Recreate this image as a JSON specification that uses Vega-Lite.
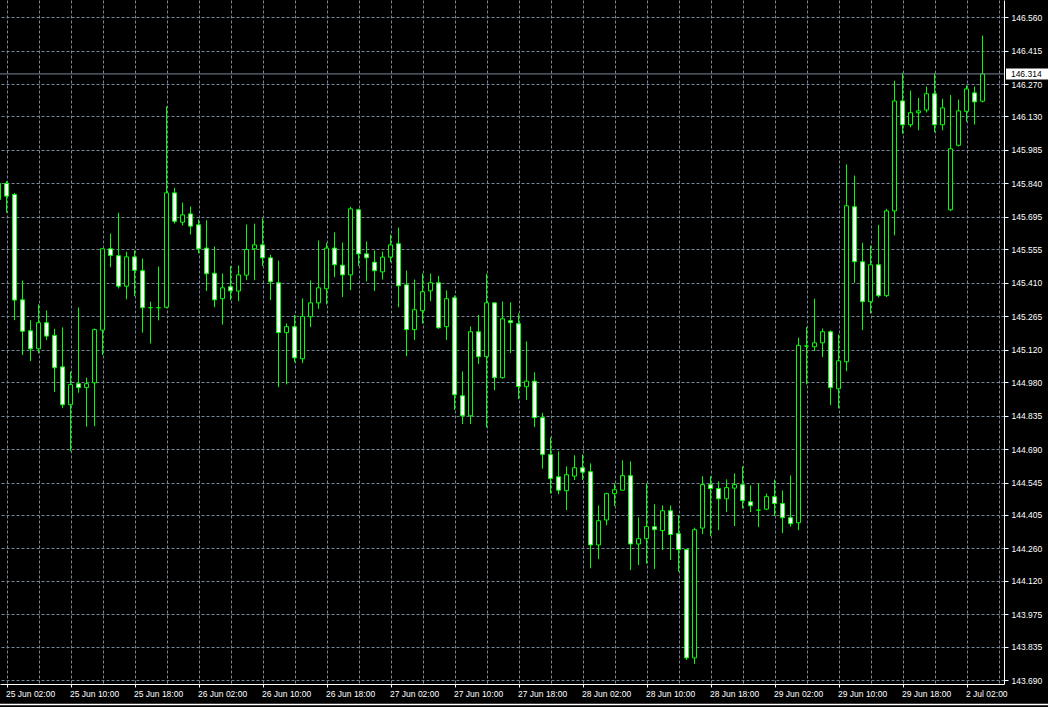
{
  "$schema": "https://vega.github.io/schema/vega-lite/v6.json",
  "width": 1004,
  "height": 684,
  "autosize": {"type": "none"},
  "padding": {"left": 0, "top": 0, "right": 44, "bottom": 23},
  "background": "#000000",
  "config": {
    "view": {"stroke": null},
    "scale": {"continuousPadding": 0},
    "axis": {
      "domainColor": "#ffffff",
      "domainWidth": 1,
      "tickColor": "#ffffff",
      "tickWidth": 1,
      "labelColor": "#ffffff",
      "labelFont": "Liberation Sans",
      "labelFontSize": 8.5,
      "gridColor": "#778899",
      "gridDash": [3, 2],
      "gridWidth": 1,
      "gridOpacity": 1,
      "labelOverlap": false,
      "labelFlush": false,
      "labelBound": false
    }
  },
  "data": {
    "values": [
      {"i": -1, "o": 145.770, "h": 145.848, "l": 145.749, "c": 145.840},
      {"i": 0, "o": 145.840, "h": 145.850, "l": 145.713, "c": 145.785},
      {"i": 1, "o": 145.792, "h": 145.799, "l": 145.248, "c": 145.335},
      {"i": 2, "o": 145.336, "h": 145.420, "l": 145.097, "c": 145.200},
      {"i": 3, "o": 145.202, "h": 145.247, "l": 145.071, "c": 145.124},
      {"i": 4, "o": 145.124, "h": 145.316, "l": 145.104, "c": 145.237},
      {"i": 5, "o": 145.237, "h": 145.290, "l": 145.162, "c": 145.179},
      {"i": 6, "o": 145.182, "h": 145.211, "l": 144.937, "c": 145.042},
      {"i": 7, "o": 145.046, "h": 145.217, "l": 144.867, "c": 144.882},
      {"i": 8, "o": 144.882, "h": 145.025, "l": 144.680, "c": 144.969},
      {"i": 9, "o": 144.973, "h": 145.303, "l": 144.934, "c": 144.956},
      {"i": 10, "o": 144.956, "h": 144.999, "l": 144.787, "c": 144.973},
      {"i": 11, "o": 144.977, "h": 145.212, "l": 144.789, "c": 145.207},
      {"i": 12, "o": 145.205, "h": 145.558, "l": 145.097, "c": 145.557},
      {"i": 13, "o": 145.557, "h": 145.623, "l": 145.477, "c": 145.528},
      {"i": 14, "o": 145.527, "h": 145.713, "l": 145.385, "c": 145.395},
      {"i": 15, "o": 145.395, "h": 145.544, "l": 145.338, "c": 145.522},
      {"i": 16, "o": 145.522, "h": 145.550, "l": 145.352, "c": 145.464},
      {"i": 17, "o": 145.462, "h": 145.515, "l": 145.194, "c": 145.302},
      {"i": 18, "o": 145.302, "h": 145.328, "l": 145.147, "c": 145.302},
      {"i": 19, "o": 145.302, "h": 145.480, "l": 145.247, "c": 145.302},
      {"i": 20, "o": 145.304, "h": 146.173, "l": 145.299, "c": 145.799},
      {"i": 21, "o": 145.799, "h": 145.821, "l": 145.666, "c": 145.676},
      {"i": 22, "o": 145.672, "h": 145.757, "l": 145.658, "c": 145.704},
      {"i": 23, "o": 145.708, "h": 145.740, "l": 145.619, "c": 145.655},
      {"i": 24, "o": 145.661, "h": 145.684, "l": 145.537, "c": 145.557},
      {"i": 25, "o": 145.560, "h": 145.680, "l": 145.374, "c": 145.449},
      {"i": 26, "o": 145.451, "h": 145.567, "l": 145.304, "c": 145.336},
      {"i": 27, "o": 145.341, "h": 145.450, "l": 145.229, "c": 145.388},
      {"i": 28, "o": 145.393, "h": 145.482, "l": 145.335, "c": 145.375},
      {"i": 29, "o": 145.374, "h": 145.485, "l": 145.330, "c": 145.444},
      {"i": 30, "o": 145.443, "h": 145.662, "l": 145.421, "c": 145.554},
      {"i": 31, "o": 145.557, "h": 145.666, "l": 145.421, "c": 145.574},
      {"i": 32, "o": 145.574, "h": 145.688, "l": 145.482, "c": 145.518},
      {"i": 33, "o": 145.518, "h": 145.531, "l": 145.335, "c": 145.414},
      {"i": 34, "o": 145.410, "h": 145.506, "l": 144.958, "c": 145.194},
      {"i": 35, "o": 145.194, "h": 145.234, "l": 144.970, "c": 145.220},
      {"i": 36, "o": 145.220, "h": 145.271, "l": 145.066, "c": 145.085},
      {"i": 37, "o": 145.081, "h": 145.342, "l": 145.062, "c": 145.264},
      {"i": 38, "o": 145.263, "h": 145.420, "l": 145.218, "c": 145.323},
      {"i": 39, "o": 145.323, "h": 145.593, "l": 145.297, "c": 145.388},
      {"i": 40, "o": 145.384, "h": 145.583, "l": 145.316, "c": 145.560},
      {"i": 41, "o": 145.560, "h": 145.628, "l": 145.434, "c": 145.488},
      {"i": 42, "o": 145.486, "h": 145.584, "l": 145.348, "c": 145.444},
      {"i": 43, "o": 145.444, "h": 145.739, "l": 145.378, "c": 145.730},
      {"i": 44, "o": 145.726, "h": 145.730, "l": 145.482, "c": 145.535},
      {"i": 45, "o": 145.535, "h": 145.589, "l": 145.416, "c": 145.518},
      {"i": 46, "o": 145.499, "h": 145.550, "l": 145.374, "c": 145.462},
      {"i": 47, "o": 145.457, "h": 145.545, "l": 145.424, "c": 145.521},
      {"i": 48, "o": 145.521, "h": 145.618, "l": 145.499, "c": 145.574},
      {"i": 49, "o": 145.579, "h": 145.649, "l": 145.304, "c": 145.397},
      {"i": 50, "o": 145.401, "h": 145.463, "l": 145.092, "c": 145.207},
      {"i": 51, "o": 145.207, "h": 145.424, "l": 145.162, "c": 145.293},
      {"i": 52, "o": 145.289, "h": 145.450, "l": 145.233, "c": 145.371},
      {"i": 53, "o": 145.375, "h": 145.450, "l": 145.330, "c": 145.410},
      {"i": 54, "o": 145.410, "h": 145.440, "l": 145.211, "c": 145.215},
      {"i": 55, "o": 145.220, "h": 145.377, "l": 145.162, "c": 145.341},
      {"i": 56, "o": 145.345, "h": 145.355, "l": 144.859, "c": 144.925},
      {"i": 57, "o": 144.921, "h": 145.026, "l": 144.798, "c": 144.834},
      {"i": 58, "o": 144.834, "h": 145.221, "l": 144.798, "c": 145.198},
      {"i": 59, "o": 145.198, "h": 145.271, "l": 145.058, "c": 145.090},
      {"i": 60, "o": 145.090, "h": 145.449, "l": 144.784, "c": 145.323},
      {"i": 61, "o": 145.323, "h": 145.325, "l": 144.945, "c": 144.999},
      {"i": 62, "o": 144.999, "h": 145.329, "l": 144.995, "c": 145.254},
      {"i": 63, "o": 145.246, "h": 145.325, "l": 145.105, "c": 145.237},
      {"i": 64, "o": 145.233, "h": 145.277, "l": 144.906, "c": 144.961},
      {"i": 65, "o": 144.960, "h": 145.156, "l": 144.902, "c": 144.984},
      {"i": 66, "o": 144.984, "h": 145.022, "l": 144.785, "c": 144.826},
      {"i": 67, "o": 144.826, "h": 144.847, "l": 144.605, "c": 144.667},
      {"i": 68, "o": 144.666, "h": 144.741, "l": 144.498, "c": 144.562},
      {"i": 69, "o": 144.570, "h": 144.680, "l": 144.495, "c": 144.512},
      {"i": 70, "o": 144.510, "h": 144.615, "l": 144.426, "c": 144.579},
      {"i": 71, "o": 144.573, "h": 144.663, "l": 144.556, "c": 144.609},
      {"i": 72, "o": 144.609, "h": 144.667, "l": 144.556, "c": 144.590},
      {"i": 73, "o": 144.592, "h": 144.628, "l": 144.174, "c": 144.275},
      {"i": 74, "o": 144.275, "h": 144.446, "l": 144.213, "c": 144.380},
      {"i": 75, "o": 144.383, "h": 144.501, "l": 144.360, "c": 144.497},
      {"i": 76, "o": 144.497, "h": 144.541, "l": 144.443, "c": 144.514},
      {"i": 77, "o": 144.512, "h": 144.641, "l": 144.512, "c": 144.575},
      {"i": 78, "o": 144.575, "h": 144.637, "l": 144.166, "c": 144.279},
      {"i": 79, "o": 144.279, "h": 144.394, "l": 144.188, "c": 144.302},
      {"i": 80, "o": 144.302, "h": 144.541, "l": 144.194, "c": 144.354},
      {"i": 81, "o": 144.354, "h": 144.451, "l": 144.171, "c": 144.341},
      {"i": 82, "o": 144.337, "h": 144.446, "l": 144.253, "c": 144.423},
      {"i": 83, "o": 144.423, "h": 144.446, "l": 144.210, "c": 144.320},
      {"i": 84, "o": 144.324, "h": 144.403, "l": 144.159, "c": 144.255},
      {"i": 85, "o": 144.255, "h": 144.258, "l": 143.777, "c": 143.786},
      {"i": 86, "o": 143.786, "h": 144.350, "l": 143.760, "c": 144.341},
      {"i": 87, "o": 144.348, "h": 144.572, "l": 144.322, "c": 144.536},
      {"i": 88, "o": 144.536, "h": 144.572, "l": 144.313, "c": 144.519},
      {"i": 89, "o": 144.519, "h": 144.550, "l": 144.339, "c": 144.475},
      {"i": 90, "o": 144.475, "h": 144.559, "l": 144.417, "c": 144.523},
      {"i": 91, "o": 144.521, "h": 144.585, "l": 144.357, "c": 144.536},
      {"i": 92, "o": 144.536, "h": 144.615, "l": 144.432, "c": 144.467},
      {"i": 93, "o": 144.462, "h": 144.533, "l": 144.417, "c": 144.445},
      {"i": 94, "o": 144.426, "h": 144.541, "l": 144.352, "c": 144.426},
      {"i": 95, "o": 144.430, "h": 144.497, "l": 144.426, "c": 144.484},
      {"i": 96, "o": 144.484, "h": 144.558, "l": 144.400, "c": 144.454},
      {"i": 97, "o": 144.454, "h": 144.511, "l": 144.326, "c": 144.393},
      {"i": 98, "o": 144.393, "h": 144.576, "l": 144.354, "c": 144.367},
      {"i": 99, "o": 144.371, "h": 145.172, "l": 144.339, "c": 145.139},
      {"i": 100, "o": 145.136, "h": 145.218, "l": 144.970, "c": 145.136},
      {"i": 101, "o": 145.133, "h": 145.341, "l": 145.114, "c": 145.150},
      {"i": 102, "o": 145.150, "h": 145.212, "l": 145.088, "c": 145.198},
      {"i": 103, "o": 145.198, "h": 145.204, "l": 144.880, "c": 144.956},
      {"i": 104, "o": 144.951, "h": 145.186, "l": 144.866, "c": 145.072},
      {"i": 105, "o": 145.068, "h": 145.922, "l": 145.027, "c": 145.743},
      {"i": 106, "o": 145.739, "h": 145.874, "l": 145.410, "c": 145.501},
      {"i": 107, "o": 145.501, "h": 145.583, "l": 145.205, "c": 145.328},
      {"i": 108, "o": 145.328, "h": 145.571, "l": 145.277, "c": 145.488},
      {"i": 109, "o": 145.488, "h": 145.661, "l": 145.346, "c": 145.354},
      {"i": 110, "o": 145.354, "h": 145.730, "l": 145.348, "c": 145.721},
      {"i": 111, "o": 145.721, "h": 146.285, "l": 145.615, "c": 146.197},
      {"i": 112, "o": 146.197, "h": 146.319, "l": 146.055, "c": 146.094},
      {"i": 113, "o": 146.094, "h": 146.242, "l": 146.083, "c": 146.146},
      {"i": 114, "o": 146.146, "h": 146.210, "l": 146.070, "c": 146.154},
      {"i": 115, "o": 146.158, "h": 146.259, "l": 146.147, "c": 146.228},
      {"i": 116, "o": 146.228, "h": 146.317, "l": 146.062, "c": 146.094},
      {"i": 117, "o": 146.094, "h": 146.206, "l": 146.070, "c": 146.167},
      {"i": 118, "o": 145.726, "h": 146.223, "l": 145.720, "c": 145.990},
      {"i": 119, "o": 146.005, "h": 146.203, "l": 146.000, "c": 146.154},
      {"i": 120, "o": 146.152, "h": 146.264, "l": 146.107, "c": 146.249},
      {"i": 121, "o": 146.232, "h": 146.259, "l": 146.095, "c": 146.193},
      {"i": 122, "o": 146.196, "h": 146.480, "l": 146.191, "c": 146.314}
    ]
  },
  "layer": [
    {
      "mark": {"type": "rule", "color": "#00ff00", "strokeWidth": 1, "clip": true},
      "encoding": {
        "x": {
          "field": "i",
          "type": "quantitative",
          "scale": {"domain": [-0.8125, 124.6875], "nice": false, "zero": false, "padding": 0},
          "axis": {
            "title": null,
            "orient": "bottom",
            "values": [0, 4, 8, 12, 16, 20, 24, 28, 32, 36, 40, 44, 48, 52, 56, 60, 64, 68, 72, 76, 80, 84, 88, 92, 96, 100, 104, 108, 112, 116, 120, 124],
            "labelExpr": "datum.value % 8 === 0 ? ['25 Jun 02:00','25 Jun 10:00','25 Jun 18:00','26 Jun 02:00','26 Jun 10:00','26 Jun 18:00','27 Jun 02:00','27 Jun 10:00','27 Jun 18:00','28 Jun 02:00','28 Jun 10:00','28 Jun 18:00','29 Jun 02:00','29 Jun 10:00','29 Jun 18:00','2 Jul 02:00'][datum.value / 8] : ''",
            "labelAlign": "left",
            "labelBaseline": "middle",
            "labelOffset": -1,
            "labelPadding": 6,
            "labelOverlap": false,
            "labelFlush": false,
            "tickSize": 3,
            "tickOpacity": {"condition": {"test": "datum.value % 8 === 0", "value": 1}, "value": 0},
            "grid": true
          }
        },
        "y": {
          "field": "l",
          "type": "quantitative",
          "scale": {"domain": [143.673, 146.634], "nice": false, "zero": false, "padding": 0},
          "axis": {
            "title": null,
            "orient": "right",
            "values": [146.56, 146.415, 146.27, 146.13, 145.985, 145.84, 145.695, 145.555, 145.41, 145.265, 145.12, 144.98, 144.835, 144.69, 144.545, 144.405, 144.26, 144.12, 143.975, 143.835, 143.69],
            "format": ".3f",
            "labelAlign": "left",
            "labelBaseline": "middle",
            "labelPadding": 3,
            "labelOverlap": false,
            "labelFlush": false,
            "tickSize": 4,
            "grid": true
          }
        },
        "y2": {"field": "h"}
      }
    },
    {
      "mark": {"type": "bar", "orient": "vertical", "size": 4, "stroke": "#00ff00", "strokeWidth": 1, "clip": true},
      "encoding": {
        "x": {
          "field": "i",
          "type": "quantitative",
          "axis": {
            "title": null,
            "orient": "bottom",
            "values": [0, 4, 8, 12, 16, 20, 24, 28, 32, 36, 40, 44, 48, 52, 56, 60, 64, 68, 72, 76, 80, 84, 88, 92, 96, 100, 104, 108, 112, 116, 120, 124],
            "labelExpr": "datum.value % 8 === 0 ? ['25 Jun 02:00','25 Jun 10:00','25 Jun 18:00','26 Jun 02:00','26 Jun 10:00','26 Jun 18:00','27 Jun 02:00','27 Jun 10:00','27 Jun 18:00','28 Jun 02:00','28 Jun 10:00','28 Jun 18:00','29 Jun 02:00','29 Jun 10:00','29 Jun 18:00','2 Jul 02:00'][datum.value / 8] : ''",
            "labelAlign": "left",
            "labelBaseline": "middle",
            "labelOffset": -1,
            "labelPadding": 6,
            "labelOverlap": false,
            "labelFlush": false,
            "tickSize": 3,
            "tickOpacity": {"condition": {"test": "datum.value % 8 === 0", "value": 1}, "value": 0},
            "grid": true
          }
        },
        "y": {
          "field": "o",
          "type": "quantitative",
          "axis": {
            "title": null,
            "orient": "right",
            "values": [146.56, 146.415, 146.27, 146.13, 145.985, 145.84, 145.695, 145.555, 145.41, 145.265, 145.12, 144.98, 144.835, 144.69, 144.545, 144.405, 144.26, 144.12, 143.975, 143.835, 143.69],
            "format": ".3f",
            "labelAlign": "left",
            "labelBaseline": "middle",
            "labelPadding": 3,
            "labelOverlap": false,
            "labelFlush": false,
            "tickSize": 4,
            "grid": true
          }
        },
        "y2": {"field": "c"},
        "fill": {"condition": {"test": "datum.c > datum.o", "value": "#000000"}, "value": "#ffffff"}
      }
    },
    {
      "data": {"values": [{"l": 146.314}]},
      "mark": {"type": "rule", "color": "#778899", "strokeWidth": 1},
      "encoding": {
        "y": {
          "field": "l",
          "type": "quantitative",
          "axis": {
            "title": null,
            "orient": "right",
            "values": [146.56, 146.415, 146.27, 146.13, 145.985, 145.84, 145.695, 145.555, 145.41, 145.265, 145.12, 144.98, 144.835, 144.69, 144.545, 144.405, 144.26, 144.12, 143.975, 143.835, 143.69],
            "format": ".3f",
            "labelAlign": "left",
            "labelBaseline": "middle",
            "labelPadding": 3,
            "labelOverlap": false,
            "labelFlush": false,
            "tickSize": 4,
            "grid": true
          }
        }
      }
    },
    {
      "data": {"values": [{"l": 146.314}]},
      "mark": {"type": "rule", "color": "#ffffff", "strokeWidth": 11, "strokeCap": "butt", "clip": false},
      "encoding": {
        "x": {
          "datum": 124.94,
          "type": "quantitative",
          "axis": {
            "title": null,
            "orient": "bottom",
            "values": [0, 4, 8, 12, 16, 20, 24, 28, 32, 36, 40, 44, 48, 52, 56, 60, 64, 68, 72, 76, 80, 84, 88, 92, 96, 100, 104, 108, 112, 116, 120, 124],
            "labelExpr": "datum.value % 8 === 0 ? ['25 Jun 02:00','25 Jun 10:00','25 Jun 18:00','26 Jun 02:00','26 Jun 10:00','26 Jun 18:00','27 Jun 02:00','27 Jun 10:00','27 Jun 18:00','28 Jun 02:00','28 Jun 10:00','28 Jun 18:00','29 Jun 02:00','29 Jun 10:00','29 Jun 18:00','2 Jul 02:00'][datum.value / 8] : ''",
            "labelAlign": "left",
            "labelBaseline": "middle",
            "labelOffset": -1,
            "labelPadding": 6,
            "labelOverlap": false,
            "labelFlush": false,
            "tickSize": 3,
            "tickOpacity": {"condition": {"test": "datum.value % 8 === 0", "value": 1}, "value": 0},
            "grid": true
          }
        },
        "x2": {"datum": 131},
        "y": {
          "field": "l",
          "type": "quantitative",
          "axis": {
            "title": null,
            "orient": "right",
            "values": [146.56, 146.415, 146.27, 146.13, 145.985, 145.84, 145.695, 145.555, 145.41, 145.265, 145.12, 144.98, 144.835, 144.69, 144.545, 144.405, 144.26, 144.12, 143.975, 143.835, 143.69],
            "format": ".3f",
            "labelAlign": "left",
            "labelBaseline": "middle",
            "labelPadding": 3,
            "labelOverlap": false,
            "labelFlush": false,
            "tickSize": 4,
            "grid": true
          }
        }
      }
    },
    {
      "data": {"values": [{"l": 146.314}]},
      "mark": {"type": "text", "color": "#000000", "font": "Liberation Sans", "fontSize": 8.5, "align": "left", "baseline": "middle", "clip": false},
      "encoding": {
        "x": {
          "datum": 125.55,
          "type": "quantitative",
          "axis": {
            "title": null,
            "orient": "bottom",
            "values": [0, 4, 8, 12, 16, 20, 24, 28, 32, 36, 40, 44, 48, 52, 56, 60, 64, 68, 72, 76, 80, 84, 88, 92, 96, 100, 104, 108, 112, 116, 120, 124],
            "labelExpr": "datum.value % 8 === 0 ? ['25 Jun 02:00','25 Jun 10:00','25 Jun 18:00','26 Jun 02:00','26 Jun 10:00','26 Jun 18:00','27 Jun 02:00','27 Jun 10:00','27 Jun 18:00','28 Jun 02:00','28 Jun 10:00','28 Jun 18:00','29 Jun 02:00','29 Jun 10:00','29 Jun 18:00','2 Jul 02:00'][datum.value / 8] : ''",
            "labelAlign": "left",
            "labelBaseline": "middle",
            "labelOffset": -1,
            "labelPadding": 6,
            "labelOverlap": false,
            "labelFlush": false,
            "tickSize": 3,
            "tickOpacity": {"condition": {"test": "datum.value % 8 === 0", "value": 1}, "value": 0},
            "grid": true
          }
        },
        "y": {
          "field": "l",
          "type": "quantitative",
          "axis": {
            "title": null,
            "orient": "right",
            "values": [146.56, 146.415, 146.27, 146.13, 145.985, 145.84, 145.695, 145.555, 145.41, 145.265, 145.12, 144.98, 144.835, 144.69, 144.545, 144.405, 144.26, 144.12, 143.975, 143.835, 143.69],
            "format": ".3f",
            "labelAlign": "left",
            "labelBaseline": "middle",
            "labelPadding": 3,
            "labelOverlap": false,
            "labelFlush": false,
            "tickSize": 4,
            "grid": true
          }
        },
        "text": {"field": "l", "type": "quantitative", "format": ".3f"}
      }
    },
    {
      "data": {"values": [{"l": 143.584}]},
      "mark": {"type": "rule", "color": "#ffffff", "strokeWidth": 1.5, "clip": false},
      "encoding": {
        "x": {
          "datum": -1,
          "type": "quantitative",
          "axis": {
            "title": null,
            "orient": "bottom",
            "values": [0, 4, 8, 12, 16, 20, 24, 28, 32, 36, 40, 44, 48, 52, 56, 60, 64, 68, 72, 76, 80, 84, 88, 92, 96, 100, 104, 108, 112, 116, 120, 124],
            "labelExpr": "datum.value % 8 === 0 ? ['25 Jun 02:00','25 Jun 10:00','25 Jun 18:00','26 Jun 02:00','26 Jun 10:00','26 Jun 18:00','27 Jun 02:00','27 Jun 10:00','27 Jun 18:00','28 Jun 02:00','28 Jun 10:00','28 Jun 18:00','29 Jun 02:00','29 Jun 10:00','29 Jun 18:00','2 Jul 02:00'][datum.value / 8] : ''",
            "labelAlign": "left",
            "labelBaseline": "middle",
            "labelOffset": -1,
            "labelPadding": 6,
            "labelOverlap": false,
            "labelFlush": false,
            "tickSize": 3,
            "tickOpacity": {"condition": {"test": "datum.value % 8 === 0", "value": 1}, "value": 0},
            "grid": true
          }
        },
        "x2": {"datum": 131},
        "y": {
          "datum": 143.584,
          "type": "quantitative",
          "axis": {
            "title": null,
            "orient": "right",
            "values": [146.56, 146.415, 146.27, 146.13, 145.985, 145.84, 145.695, 145.555, 145.41, 145.265, 145.12, 144.98, 144.835, 144.69, 144.545, 144.405, 144.26, 144.12, 143.975, 143.835, 143.69],
            "format": ".3f",
            "labelAlign": "left",
            "labelBaseline": "middle",
            "labelPadding": 3,
            "labelOverlap": false,
            "labelFlush": false,
            "tickSize": 4,
            "grid": true
          }
        }
      }
    }
  ]
}
